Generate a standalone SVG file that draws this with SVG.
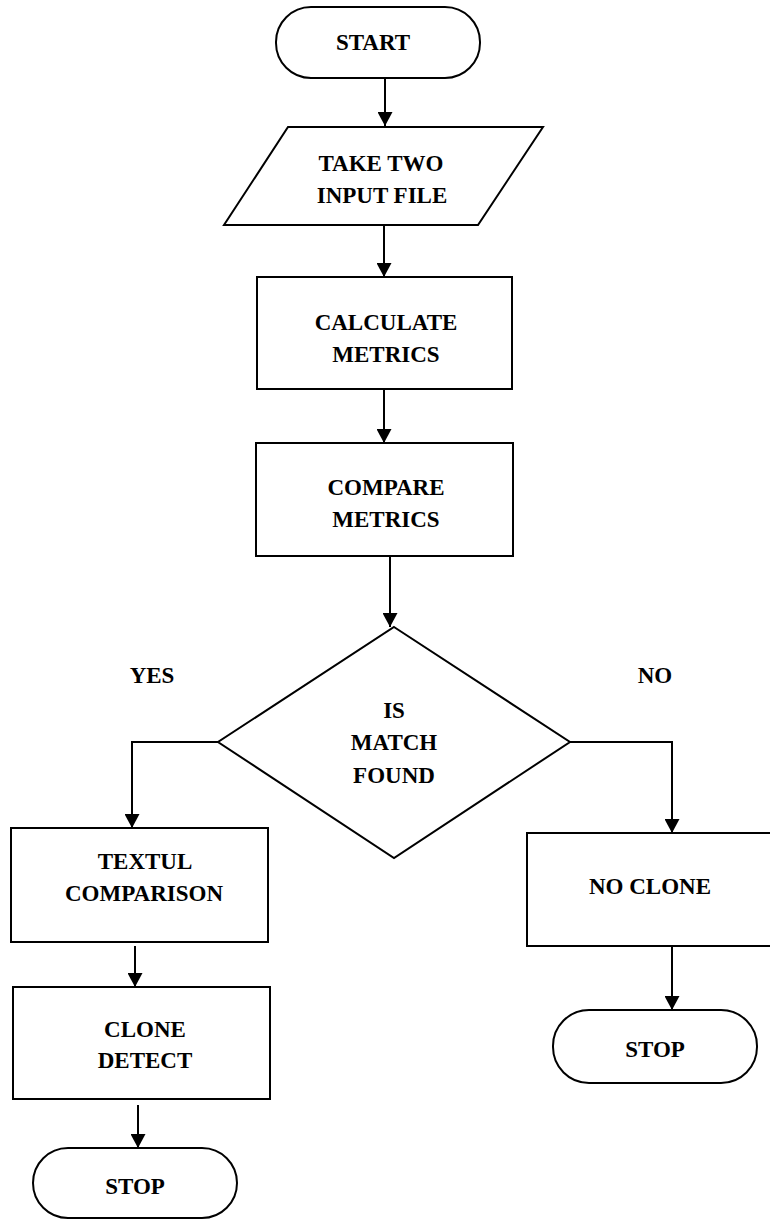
<svg xmlns="http://www.w3.org/2000/svg" width="770" height="1220" viewBox="0 0 770 1220">
<style>
.s{fill:#fff;stroke:#000;stroke-width:2}
.c{fill:none;stroke:#000;stroke-width:2}
text{font-family:"Liberation Serif","Times New Roman",serif;font-weight:bold;font-size:23px;fill:#000;text-anchor:middle}
</style>
<defs>
<marker id="ah" markerUnits="userSpaceOnUse" markerWidth="14" markerHeight="15" refX="14" refY="7.5" orient="auto">
<path d="M0,0 L14,7.5 L0,15 z" fill="#000"/>
</marker>
</defs>
<rect width="770" height="1220" fill="#fff"/>
<g id="connectors">
<line class="c" x1="385" y1="78" x2="385" y2="126" marker-end="url(#ah)"/>
<line class="c" x1="384" y1="225" x2="384" y2="277" marker-end="url(#ah)"/>
<line class="c" x1="384" y1="390" x2="384" y2="443" marker-end="url(#ah)"/>
<line class="c" x1="390" y1="556" x2="390" y2="627" marker-end="url(#ah)"/>
<polyline class="c" points="218,742 132,742 132,828" marker-end="url(#ah)"/>
<polyline class="c" points="570,742 672,742 672,833" marker-end="url(#ah)"/>
<line class="c" x1="135" y1="946" x2="135" y2="987" marker-end="url(#ah)"/>
<line class="c" x1="138" y1="1105" x2="138" y2="1148" marker-end="url(#ah)"/>
<line class="c" x1="672" y1="946" x2="672" y2="1010" marker-end="url(#ah)"/>
</g>
<g id="start">
<rect class="s" x="276" y="7" width="204" height="71" rx="35" ry="35"/>
<text x="373" y="50">START</text>
</g>
<g id="input">
<polygon class="s" points="288,127 543,127 478,225 224,225"/>
<text x="381" y="171">TAKE TWO</text>
<text x="382" y="203">INPUT FILE</text>
</g>
<g id="calculate">
<rect class="s" x="257" y="277" width="255" height="112"/>
<text x="386" y="330">CALCULATE</text>
<text x="386" y="362">METRICS</text>
</g>
<g id="compare">
<rect class="s" x="256" y="443" width="257" height="113"/>
<text x="386" y="495">COMPARE</text>
<text x="386" y="527">METRICS</text>
</g>
<g id="decision">
<polygon class="s" points="394,627 570,742 394,858 218,742"/>
<text x="394" y="718">IS</text>
<text x="394" y="750">MATCH</text>
<text x="394" y="783">FOUND</text>
</g>
<g id="labels">
<text x="152" y="683">YES</text>
<text x="655" y="683">NO</text>
</g>
<g id="textul">
<rect class="s" x="11" y="828" width="257" height="114"/>
<text x="145" y="869">TEXTUL</text>
<text x="144" y="901">COMPARISON</text>
</g>
<g id="clone">
<rect class="s" x="13" y="987" width="257" height="112"/>
<text x="145" y="1037">CLONE</text>
<text x="145" y="1068">DETECT</text>
</g>
<g id="stop1">
<rect class="s" x="33" y="1148" width="204" height="70" rx="35" ry="35"/>
<text x="135" y="1194">STOP</text>
</g>
<g id="noclone">
<rect class="s" x="527" y="833" width="248" height="113"/>
<text x="650" y="894">NO CLONE</text>
</g>
<g id="stop2">
<rect class="s" x="553" y="1010" width="204" height="73" rx="36" ry="36"/>
<text x="655" y="1057">STOP</text>
</g>
</svg>
